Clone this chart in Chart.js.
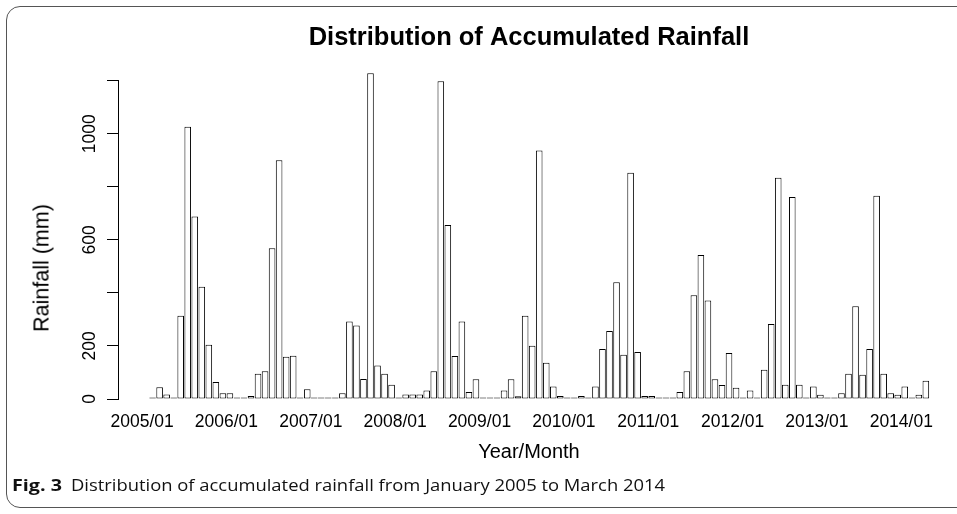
<!DOCTYPE html>
<html>
<head>
<meta charset="utf-8">
<title>Distribution of Accumulated Rainfall</title>
<script src="https://cdn.jsdelivr.net/npm/chart.js@4.4.1/dist/chart.umd.min.js"></script>
<style>
  body { margin: 0; background: #fff; }
  #wrap { position: relative; width: 957px; height: 514px; overflow: hidden; }
  #frame { position: absolute; left: 6px; top: 6px; width: 1000px; height: 502px; border: 1px solid #555; border-radius: 14px; box-sizing: border-box; }
  #chart { position: absolute; left: 0; top: 0; }
  #ylab { position: absolute; left: 42px; top: 268px; transform: translate(-50%, -50%) rotate(-90deg); font-family: "Liberation Sans", Arial, sans-serif; font-size: 21.5px; color: #000; white-space: nowrap; }
  .cap { position: absolute; top: 474px; font-family: "Open Sans", "Noto Sans", sans-serif; font-size: 16px; color: #111; white-space: nowrap; transform-origin: 0 0; }
  #fig-label { left: 12px; font-weight: 700; }
  #fig-text { left: 71px; }
</style>
</head>
<body>
<div id="wrap">
  <div id="frame"></div>
  <canvas id="chart" width="957" height="514"></canvas>
  <span id="ylab">Rainfall (mm)</span>
  <span class="cap" id="fig-label">Fig. 3</span>
  <span class="cap" id="fig-text">Distribution of accumulated rainfall from January 2005 to March 2014</span>
</div>
<script>
// Monthly rainfall (mm)
const rain2005 = [2, 44, 17, 6, 314, 1026, 688, 423, 204, 64, 22, 22]
const rain2006 = [6, 1, 11, 95, 105, 568, 900, 159, 163, 2, 37, 1]
const rain2007 = [5, 5, 5, 22, 292, 277, 75, 1228, 126, 95, 54, 2]
const rain2008 = [17, 17, 17, 32, 105, 1198, 656, 162, 292, 26, 74, 2]
const rain2009 = [1, 2, 32, 74, 10, 314, 201, 937, 137, 47, 11, 2]
const rain2010 = [2, 11, 2, 47, 188, 256, 440, 167, 853, 177, 11, 11]
const rain2011 = [6, 2, 6, 26, 105, 391, 543, 371, 74, 53, 173, 42]
const rain2012 = [2, 32, 5, 110, 283, 834, 54, 761, 54, 2, 47, 16]
const rain2013 = [1, 1, 22, 95, 350, 91, 188, 766, 95, 22, 16, 47]
const rain2014 = [2, 16, 69]

// Axis labels
const yearTicks = ["2005/01", "2006/01", "2007/01", "2008/01", "2009/01", "2010/01", "2011/01", "2012/01", "2013/01", "2014/01"]
const yLabelsShown = [0, 200, 600, 1000]

const rainfall = [].concat(rain2005, rain2006, rain2007, rain2008, rain2009, rain2010, rain2011, rain2012, rain2013, rain2014)

Chart.defaults.font.family = "'Liberation Sans', Arial, sans-serif"
Chart.defaults.color = "#000"

const tickFont = { size: 17.5 }
const titleFont = { size: 20 }

const ctx = document.getElementById("chart").getContext("2d")

new Chart(ctx, {
  type: "bar",
  data: {
    datasets: [
      {
        label: "Rainfall (mm)",
        data: rainfall.map((v, i) => ({ x: i, y: v })),
        backgroundColor: "#fff",
        borderColor: "#000",
        borderWidth: 1,
        borderSkipped: false,
        categoryPercentage: 1,
        barPercentage: 0.94,
        minBarLength: 1.5,
        clip: false,
      },
    ],
  },
  options: {
    responsive: false,
    animation: false,
    layout: { padding: { left: 10, right: 8, top: 0, bottom: 50 } },
    plugins: {
      legend: { display: false },
      tooltip: { enabled: false },
      title: {
        display: true,
        text: "Distribution of Accumulated Rainfall",
        fullSize: false,
        color: "#000",
        font: { size: 25.5, weight: "bold" },
        padding: { top: 23, bottom: 27 },
      },
    },
    scales: {
      x: {
        type: "linear",
        offset: false,
        min: -4.92,
        max: 112,
        grid: { display: false, drawTicks: false, offset: false },
        border: { display: false },
        afterBuildTicks: (scale) => {
          scale.ticks = yearTicks.map((label, i) => ({ value: i * 12 }))
        },
        afterFit: (scale) => {
          scale.height = 65
        },
        ticks: {
          autoSkip: false,
          minRotation: 0,
          maxRotation: 0,
          padding: 13,
          labelOffset: -10.5,
          font: tickFont,
          callback: (value, index) => yearTicks[index],
        },
        title: { display: true, text: "Year/Month", font: titleFont, padding: { top: 9, bottom: 0 } },
      },
      y: {
        min: 0,
        max: 1200,
        afterFit: (scale) => {
          scale.width = 108
        },
        grid: { drawOnChartArea: false, drawTicks: true, tickLength: 11, color: "#000" },
        border: { display: true, color: "#000", width: 1 },
        ticks: {
          stepSize: 200,
          minRotation: 90,
          maxRotation: 90,
          crossAlign: "center",
          padding: -2.5,
          font: tickFont,
          callback: (value) => (yLabelsShown.includes(value) ? String(value) : ""),
        },
      },
    },
  },
})

// Fit the caption spans to the widths they have in the figure
function fitCaption(id, width) {
  const el = document.getElementById(id)
  const w = el.getBoundingClientRect().width
  el.style.transform = `scaleX(${width / w})`
}
fitCaption("fig-label", 50)
fitCaption("fig-text", 594)
</script>
</body>
</html>
